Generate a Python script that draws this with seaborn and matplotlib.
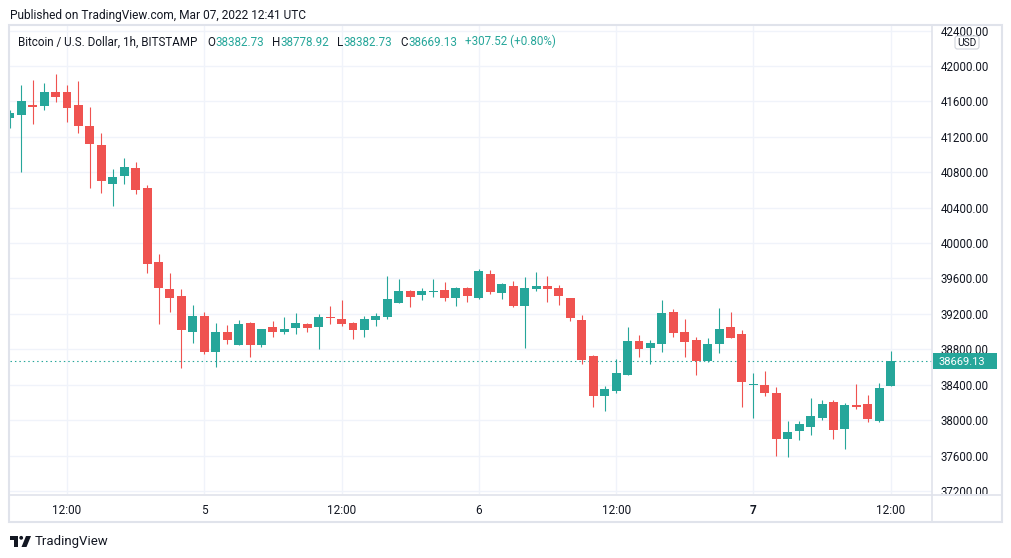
import matplotlib

matplotlib.use("Agg")

import matplotlib.pyplot as plt  # noqa: E402
import seaborn as sns  # noqa: E402
from matplotlib.patches import FancyBboxPatch, Polygon, Rectangle  # noqa: E402
from matplotlib.transforms import Bbox, TransformedBbox, blended_transform_factory, offset_copy  # noqa: E402

# hourly candles, 4 Mar 2022 07:00 -> 7 Mar 2022 12:00 (BITSTAMP BTC/USD)
opens = [41413, 41447, 41560, 41548, 41706, 41706, 41560, 41322, 41108, 40667,
         40758, 40848, 40622, 39786, 39481, 39402, 38996, 39177, 38770, 38996,
         38849, 39097, 38849, 39052, 38996, 39041, 39086, 39052, 39165, 39142,
         39097, 39018, 39131, 39165, 39323, 39459, 39414, 39448, 39470, 39380,
         39493, 39380, 39651, 39436, 39515, 39289, 39481, 39515, 39493, 39380,
         39131, 38725, 38273, 38330, 38510, 38894, 38815, 38860, 39222, 38996,
         38905, 38668, 38860, 39052, 38973, 38397, 38397, 38307, 37787, 37877,
         37923, 38024, 38205, 37900, 38171, 38183, 37991, 38382.73]
highs = [41503, 41785, 41842, 41808, 41910, 41785, 41831, 41537, 41243, 40837,
         40961, 40916, 40656, 39877, 39662, 39481, 39301, 39222, 39097, 39075,
         39131, 39109, 39030, 39120, 39165, 39210, 39097, 39199, 39289, 39357,
         39109, 39176, 39210, 39628, 39594, 39470, 39493, 39594, 39560, 39504,
         39504, 39707, 39696, 39550, 39572, 39617, 39673, 39628, 39526, 39385,
         39188, 38736, 38386, 38691, 39052, 38962, 38905, 39357, 39256, 39142,
         38939, 38928, 39267, 39222, 39018, 38533, 38555, 38375, 37991, 37991,
         38250, 38228, 38228, 38194, 38409, 38284, 38420, 38778.92]
lows = [41300, 40803, 41345, 41503, 41593, 41368, 41243, 40622, 40566, 40419,
        40667, 40554, 39663, 39086, 39222, 38589, 38872, 38747, 38600, 38860,
        38849, 38713, 38826, 38939, 38973, 38973, 38996, 38804, 39086, 39063,
        38917, 38939, 39063, 39142, 39323, 39278, 39357, 39391, 39346, 39289,
        39335, 39368, 39425, 39368, 39278, 38815, 39459, 39335, 39301, 39120,
        38634, 38149, 38104, 38307, 38505, 38713, 38634, 38770, 38939, 38713,
        38510, 38657, 38759, 38925, 38149, 38024, 38273, 37595, 37584, 37776,
        37832, 38002, 37787, 37674, 38126, 37979, 37979, 38382.73]
closes = [41469, 41605, 41537, 41706, 41650, 41526, 41322, 41119, 40701, 40746,
          40859, 40600, 39764, 39493, 39380, 39018, 39177, 38770, 38996, 38906,
          39086, 38849, 39030, 38996, 39030, 39097, 39041, 39165, 39154, 39086,
          39018, 39142, 39176, 39368, 39459, 39391, 39459, 39459, 39380, 39493,
          39402, 39685, 39448, 39538, 39289, 39493, 39515, 39481, 39402, 39154,
          38680, 38273, 38352, 38533, 38894, 38804, 38872, 39210, 38984, 38883,
          38668, 38860, 39030, 38928, 38431, 38409, 38307, 37787, 37866, 37957,
          38047, 38183, 37889, 38171, 38149, 38013, 38361.61, 38669.13]

price_ticks = list(range(37200, 42401, 400))
time_tick_hours = [5, 17, 29, 41, 53, 65, 77]
time_tick_labels = ["12:00", "5", "12:00", "6", "12:00", "7", "12:00"]

UP = "#26a69a"
DOWN = "#ef5350"
TEXT = "#131722"
GRID = "#f0f3fa"
FRAME = "#e0e3eb"

W, H = 1012, 558

sns.set_theme(style="white")
plt.rcParams["font.family"] = ["Roboto", "DejaVu Sans"]

fig = plt.figure(figsize=(W / 100, H / 100), dpi=100)
fig.patch.set_facecolor("white")


def fig_box(x0, y0, x1, y1):
    return [x0 / W, 1 - y1 / H, (x1 - x0) / W, (y1 - y0) / H]


ax = fig.add_axes(fig_box(10, 26, 932, 494))
ax.set_facecolor("white")

hours = list(range(len(opens)))
colors = [UP if c >= o else DOWN for o, c in zip(opens, closes)]
bottoms = [min(o, c) for o, c in zip(opens, closes)]
heights = [max(abs(c - o), 12) for o, c in zip(opens, closes)]

ax.vlines(hours, lows, highs, colors=colors, linewidth=0.8, zorder=2)
ax.bar(hours, heights, bottom=bottoms, width=0.78, color=colors, linewidth=0, zorder=3)
ax.axhline(closes[-1], color=UP, linewidth=0.8, linestyle=(0, (1.3, 2.7)), zorder=1)

# px -> price mapping: 42000 @ y66, 37200 @ y491
per_px = (42000 - 37200) / (491 - 66)
ax.set_ylim(42000 - (494 - 66) * per_px, 42000 + (66 - 26) * per_px)
ax.set_xlim(5 - 57 / 11.44, 5 + 865 / 11.44)

ax.set_yticks(price_ticks)
ax.set_xticks(time_tick_hours)
ax.set_xticklabels(time_tick_labels)
ax.get_xticklabels()[5].set_fontweight("bold")
ax.tick_params(axis="y", length=0, left=False, labelleft=False)
ax.tick_params(axis="x", length=0, pad=7, labelsize=8.5, labelcolor=TEXT)
ax.grid(True, color=GRID, linewidth=1)
ax.set_axisbelow(True)
for spine in ax.spines.values():
    spine.set_visible(False)

# price scale labels, clipped by the pane borders as in the reference
scale_clip = TransformedBbox(Bbox.from_extents(932 / W, 1 - 494 / H, 1.0, 1 - 26 / H), fig.transFigure)
scale_trans = offset_copy(blended_transform_factory(ax.transAxes, ax.transData),
                          fig=fig, x=9, y=0, units="dots")
for p in price_ticks:
    t = ax.text(1.0, p, f"{p:.2f}", transform=scale_trans, ha="left", va="center_baseline",
                fontsize=8.3, color=TEXT, clip_on=True)
    t.set_clip_box(scale_clip)

# overlay in pixel coordinates for frame, badges and header texts
ov = fig.add_axes([0, 0, 1, 1])
ov.set_xlim(0, W)
ov.set_ylim(H, 0)
ov.axis("off")
ov.patch.set_alpha(0)

ov.add_patch(Rectangle((9, 25), 993, 497, fill=False, edgecolor=FRAME, linewidth=1.5))
ov.plot([9, 1002], [494.5, 494.5], color=FRAME, linewidth=1.2)
ov.plot([932.5, 932.5], [25, 522], color=FRAME, linewidth=1.2)

ov.add_patch(FancyBboxPatch((955, 36), 24, 13, boxstyle="round,pad=0,rounding_size=2.5",
                            facecolor="white", edgecolor="#d1d4dc", linewidth=0.8))
ov.text(967, 43, "USD", ha="center", va="center", fontsize=7.3, color=TEXT)

last_y = 66 + (42000 - closes[-1]) / per_px
ov.add_patch(Rectangle((933, last_y - 8), 64, 16.5, facecolor=UP, edgecolor="none"))
ov.text(939, last_y + 1, f"{closes[-1]:.2f}", ha="left", va="center", fontsize=8.0, color="white")

ov.text(10, 15, "Published on TradingView.com, Mar 07, 2022 12:41 UTC",
        ha="left", va="center", fontsize=8.6, color=TEXT)

change = closes[-1] - closes[-2]
pct = change / closes[-2] * 100
pieces = [
    ("Bitcoin / U.S. Dollar, 1h, BITSTAMP", TEXT, 0),
    ("O", TEXT, 7),
    (f"{opens[-1]:.2f}", UP, 0.4),
    ("H", TEXT, 5.5),
    (f"{highs[-1]:.2f}", UP, 0.4),
    ("L", TEXT, 5.5),
    (f"{lows[-1]:.2f}", UP, 0.4),
    ("C", TEXT, 5.5),
    (f"{closes[-1]:.2f}", UP, 0.4),
    (f"{change:+.2f} ({pct:+.2f}%)", UP, 5.5),
]
prev = ov.text(18, 42, pieces[0][0], ha="left", va="center", fontsize=8.4, color=pieces[0][1])
for label, col, gap in pieces[1:]:
    prev = ov.annotate(label, xy=(1, 0), xycoords=prev, xytext=(gap, 0),
                       textcoords="offset points", ha="left", va="bottom",
                       fontsize=8.4, color=col)

# TradingView mark + wordmark
ov.add_patch(Rectangle((10, 536), 8, 3.5, facecolor=TEXT, edgecolor="none"))
ov.add_patch(Rectangle((14, 536), 4, 11, facecolor=TEXT, edgecolor="none"))
ov.add_patch(plt.Circle((21.2, 537.8), 1.9, facecolor=TEXT, edgecolor="none"))
ov.add_patch(Polygon([(26, 536), (31, 536), (26.5, 547), (21.5, 547)],
                     closed=True, facecolor=TEXT, edgecolor="none"))
ov.text(35, 541.5, "TradingView", ha="left", va="center", fontsize=9.5, color=TEXT)

fig.savefig("out.png", dpi=100, facecolor="white")
